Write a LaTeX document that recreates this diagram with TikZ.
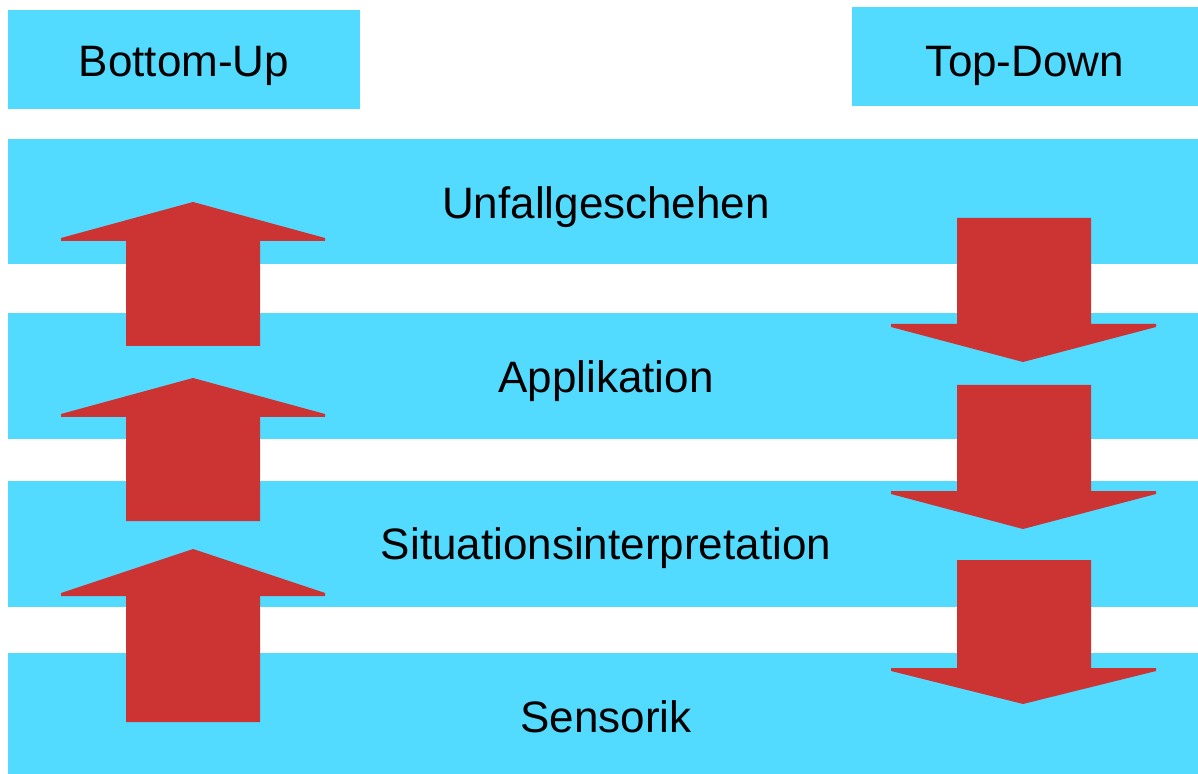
\documentclass[tikz,border=0pt]{standalone}
\usepackage{fontspec}
\setmainfont{Liberation Sans}
\usepackage{tikz}
\definecolor{bandcyan}{RGB}{82,219,255}
\definecolor{arrowred}{RGB}{204,51,51}

\begin{document}
\begin{tikzpicture}[x=0.5pt,y=-0.5pt,
	band/.style={fill=bandcyan, inner sep=0pt, minimum width=598pt,
		font=\fontsize{22}{26}\selectfont, text height=15.8pt, text depth=0pt},
	headbox/.style={fill=bandcyan, inner sep=0pt, minimum width=176pt,
		minimum height=49.5pt, font=\fontsize{22}{26}\selectfont,
		text height=15.8pt, text depth=0pt}]
\useasboundingbox (0,0) rectangle (1198,774);

\node[headbox, text height=17.3pt] (bottomup) at (184,59.5) {Bottom-Up};
\node[headbox, minimum width=173pt, text height=19.8pt] (topdown) at (1025,57) {Top-Down};

\node[band, minimum height=62.5pt, text height=16.8pt] (unfall) at (606,201.5) {Unfallgeschehen};
\node[band, minimum height=63pt, text height=16.8pt] (appl) at (606,376) {Applikation};
\node[band, minimum height=63pt] (situation) at (606,544) {Situationsinterpretation};
\node[band, minimum height=60.5pt, text height=19.3pt] (sensorik) at (606,713.5) {Sensorik};

% bottom-up arrows
\foreach \t/\b/\e in {202/238/346, 378/414/521, 549/593/722}
	\fill[arrowred] (193,\t) -- (325,\b) -- (325,{\b+3}) -- (260,{\b+3}) -- (260,\e)
		-- (126,\e) -- (126,{\b+3}) -- (61,{\b+3}) -- (61,\b) -- cycle;

% top-down arrows
\foreach \s/\b/\t in {218/324/362, 385/491/529, 560/668/704}
	\fill[arrowred] (957,\s) -- (1091,\s) -- (1091,\b) -- (1156,\b) -- (1156,{\b+3})
		-- (1023,\t) -- (891,{\b+3}) -- (891,\b) -- (957,\b) -- cycle;
\end{tikzpicture}
\end{document}
